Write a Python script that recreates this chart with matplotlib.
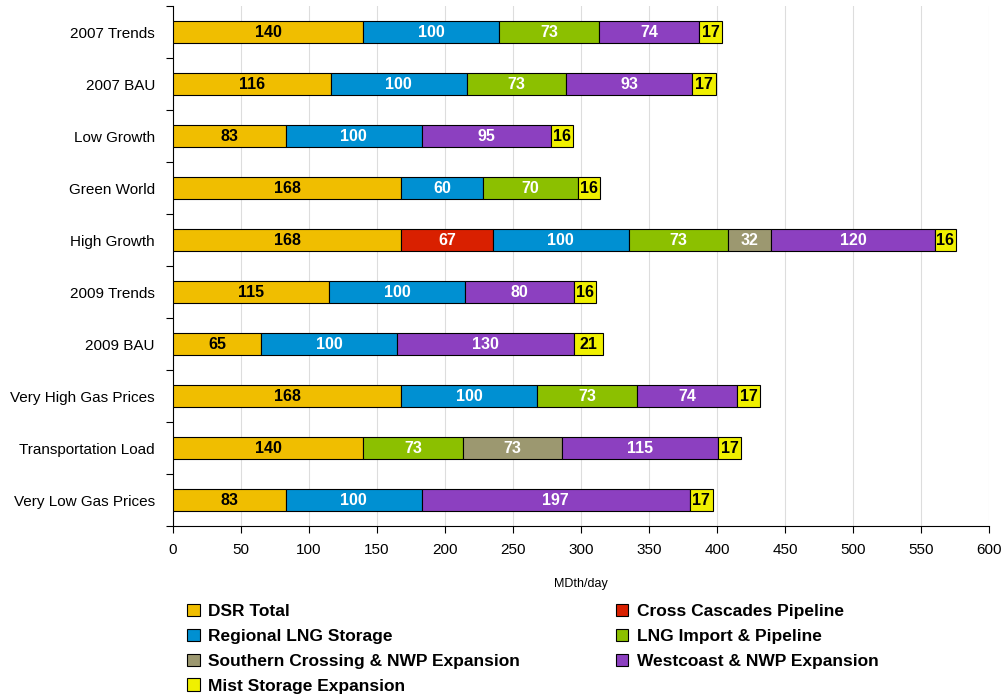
import numpy as np
import matplotlib.pyplot as plt

plt.rcParams['font.family'] = ['Liberation Sans', 'DejaVu Sans']

# scenarios, top to bottom
scenarios = ["2007 Trends", "2007 BAU", "Low Growth", "Green World", "High Growth",
             "2009 Trends", "2009 BAU", "Very High Gas Prices", "Transportation Load",
             "Very Low Gas Prices"]

# MDth/day per resource, 0 = not in portfolio
dsr_total        = [140, 116, 83, 168, 168, 115, 65, 168, 140, 83]
cross_cascades   = [0, 0, 0, 0, 67, 0, 0, 0, 0, 0]
regional_lng     = [100, 100, 100, 60, 100, 100, 100, 100, 0, 100]
lng_import       = [73, 73, 0, 70, 73, 0, 0, 73, 73, 0]
southern_cross   = [0, 0, 0, 0, 32, 0, 0, 0, 73, 0]
westcoast_nwp    = [74, 93, 95, 0, 120, 80, 130, 74, 115, 197]
mist_storage     = [17, 17, 16, 16, 16, 16, 21, 17, 17, 17]

series = [
    ("DSR Total", dsr_total, "#F0BE00", "black"),
    ("Cross Cascades Pipeline", cross_cascades, "#D92000", "white"),
    ("Regional LNG Storage", regional_lng, "#0090D2", "white"),
    ("LNG Import & Pipeline", lng_import, "#8CC000", "white"),
    ("Southern Crossing & NWP Expansion", southern_cross, "#9C9870", "white"),
    ("Westcoast & NWP Expansion", westcoast_nwp, "#8C40C0", "white"),
    ("Mist Storage Expansion", mist_storage, "#F0F000", "black"),
]

fig = plt.figure(figsize=(10.08, 6.98), dpi=100)
ax = fig.add_axes([0.1716, 0.2464, 0.8095, 0.745])

y = np.arange(len(scenarios))
left = np.zeros(len(scenarios))
handles = {}
for name, vals, color, tcolor in series:
    vals = np.array(vals, dtype=float)
    mask = vals > 0
    bars = ax.barh(y[mask], vals[mask], left=left[mask], height=0.42,
                   color=color, edgecolor="black", linewidth=0.8, zorder=3)
    handles[name] = bars
    for yi, v, l in zip(y[mask], vals[mask], left[mask]):
        ax.text(l + v / 2, yi, f"{int(v)}", ha="center", va="center",
                color=tcolor, fontsize=11.5, fontweight="bold", zorder=4)
    left = left + vals

ax.set_xlim(0, 600)
ax.set_ylim(len(scenarios) - 0.5, -0.5)
ax.set_xticks(np.arange(0, 601, 50))
ax.set_yticks(y)
ax.set_yticklabels(scenarios)
ax.set_yticks(np.arange(-0.5, len(scenarios), 1), minor=True)
ax.tick_params(axis="y", which="major", length=0, pad=13, labelsize=11)
ax.tick_params(axis="y", which="minor", length=5, width=0.8)
ax.tick_params(axis="x", length=5, width=0.8, labelsize=11, pad=7)
ax.grid(axis="x", color="#DDDDDD", linewidth=0.8, zorder=0)
ax.spines["top"].set_visible(False)
ax.spines["right"].set_visible(False)
ax.set_xlabel("MDth/day", fontsize=9, labelpad=15)

order = ["DSR Total", "Regional LNG Storage", "Southern Crossing & NWP Expansion",
         "Mist Storage Expansion", "Cross Cascades Pipeline", "LNG Import & Pipeline",
         "Westcoast & NWP Expansion"]
fig.legend([handles[n] for n in order], order, loc="upper left",
           bbox_to_anchor=(0.186, 0.135), ncol=2, frameon=False,
           prop={"weight": "bold", "size": 12.5}, handlelength=0.7,
           handleheight=0.7, handletextpad=0.5, labelspacing=0.56,
           columnspacing=5.5, borderpad=0, borderaxespad=0)

fig.savefig("out.png", dpi=100)
